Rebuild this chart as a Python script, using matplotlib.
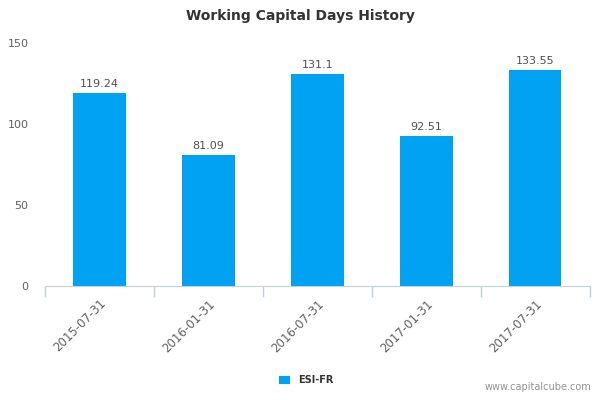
import numpy as np
import matplotlib.pyplot as plt

dates = ['2015-07-31', '2016-01-31', '2016-07-31', '2017-01-31', '2017-07-31']
values = [119.24, 81.09, 131.1, 92.51, 133.55]
labels = ['119.24', '81.09', '131.1', '92.51', '133.55']
series_name = 'ESI-FR'

bar_color = '#00A2F1'
axis_color = '#C0D0E0'
text_color = '#606060'

fig = plt.figure(figsize=(6, 4), dpi=100)
ax = fig.add_axes([0.075, 0.285, 0.908, 0.6075])

x = np.arange(len(dates))
bars = ax.bar(x, values, width=0.48, color=bar_color, label=series_name, zorder=2)

for xi, v, lab in zip(x, values, labels):
    ax.text(xi, v + 2.5, lab, ha='center', va='bottom', fontsize=8, color='#505050')

ax.set_xlim(-0.5, len(dates) - 0.5)
ax.set_ylim(0, 150)
ax.set_yticks([0, 50, 100, 150])
ax.tick_params(axis='y', length=0, labelsize=8, labelcolor=text_color, pad=12)

ax.set_xticks(x)
ax.set_xticklabels(dates, rotation=45, ha='right', rotation_mode='anchor',
                   fontsize=8.5, color=text_color)
ax.tick_params(axis='x', length=0, pad=8)
# boundary ticks like the original
ax.set_xticks(np.arange(-0.5, len(dates)), minor=True)
ax.tick_params(axis='x', which='minor', length=8, color=axis_color, width=1)

for s in ['top', 'right', 'left']:
    ax.spines[s].set_visible(False)
ax.spines['bottom'].set_color(axis_color)

fig.text(0.5, 0.96, 'Working Capital Days History', ha='center', va='center',
         fontsize=10, fontweight='bold', color='#333333')

leg = fig.legend(handles=[bars], labels=[series_name], loc='center',
                 bbox_to_anchor=(0.51, 0.05), frameon=False, fontsize=7,
                 handlelength=1.2, handleheight=0.9)
for t in leg.get_texts():
    t.set_fontweight('bold')
    t.set_color('#333333')

fig.text(0.985, 0.02, 'www.capitalcube.com', ha='right', va='bottom',
         fontsize=7, color='#909090')

fig.savefig('out.png', dpi=100)
